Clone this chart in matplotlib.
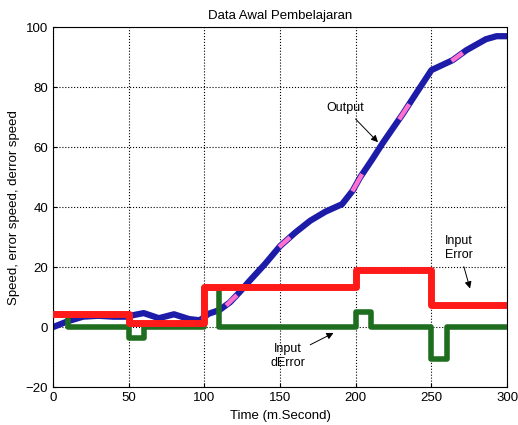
import numpy as np
import matplotlib.pyplot as plt

# Output speed (blue)
out_t = [0, 10, 20, 30, 40, 50, 53, 60, 70, 80, 90, 97, 103, 110, 117, 123, 130,
         140, 150, 160, 170, 180, 191, 198, 203, 211, 218, 231, 240, 250, 264,
         273, 286, 293, 300]
out_y = [0, 2, 3.5, 3.8, 3.5, 3.5, 4, 4.7, 3, 4.3, 2.7, 2.3, 4.5, 5.7, 8.3, 11.5,
         15.5, 21, 27, 31.5, 35.5, 38.5, 41, 45.5, 50, 56, 61.5, 71, 78, 85.7, 89,
         92.3, 96, 97, 97]
pink_t = [118, 153, 201, 232, 267]

# Input error (red), step
err_t = [0, 50, 100, 200, 250, 300]
err_y = [4.5, 1.5, 13.5, 19, 7.5, 7.5]

# Input derror (green), step
derr_t = [0, 10, 50, 60, 100, 110, 200, 210, 250, 260, 300]
derr_y = [4.5, 0, -3.5, 0, 13, 0, 5, 0, -10.5, 0, 0]

plt.rcParams['font.family'] = ['Liberation Sans', 'DejaVu Sans']

fig = plt.figure(figsize=(5.18, 4.25), dpi=100)
ax = fig.add_axes([0.102, 0.089, 0.877, 0.847])

ax.plot(out_t, out_y, color='#1c1ca8', lw=4.5, solid_capstyle='round',
        solid_joinstyle='round', zorder=2)
for pt in pink_t:
    seg_t = np.array([pt - 2.5, pt + 2.5])
    ax.plot(seg_t, np.interp(seg_t, out_t, out_y), color='#ff70d0', lw=3.2, zorder=2.5)
ax.plot(derr_t, derr_y, color='#1f6e1f', lw=4.0, drawstyle='steps-post',
        solid_joinstyle='round', zorder=3)
ax.plot(err_t, err_y, color='#ff1a1a', lw=5.0, drawstyle='steps-post', zorder=4)

ax.set_xlim(0, 300)
ax.set_ylim(-20, 100)
ax.set_xticks([0, 50, 100, 150, 200, 250, 300])
ax.set_yticks([-20, 0, 20, 40, 60, 80, 100])
ax.grid(True, color='black', linestyle=':', linewidth=0.8)
ax.tick_params(labelsize=9.5, direction='in', length=3)
ax.set_title('Data Awal Pembelajaran', fontsize=9.5)
ax.set_xlabel('Time (m.Second)', fontsize=9.5)
ax.set_ylabel('Speed, error speed, derror speed', fontsize=9.5)

arrow = dict(arrowstyle='-|>', color='black', lw=0.7, mutation_scale=10)
ax.annotate('Output', xy=(216, 61), xytext=(193, 71), fontsize=9,
            ha='center', va='bottom', arrowprops=arrow)
ax.annotate('Input\nError', xy=(276, 12), xytext=(268, 22), fontsize=9,
            ha='center', va='bottom', arrowprops=arrow)
ax.annotate('Input\ndError', xy=(187, -1.5), xytext=(155, -14), fontsize=9,
            ha='center', va='bottom', arrowprops=arrow)

fig.savefig('out.png', dpi=100)
